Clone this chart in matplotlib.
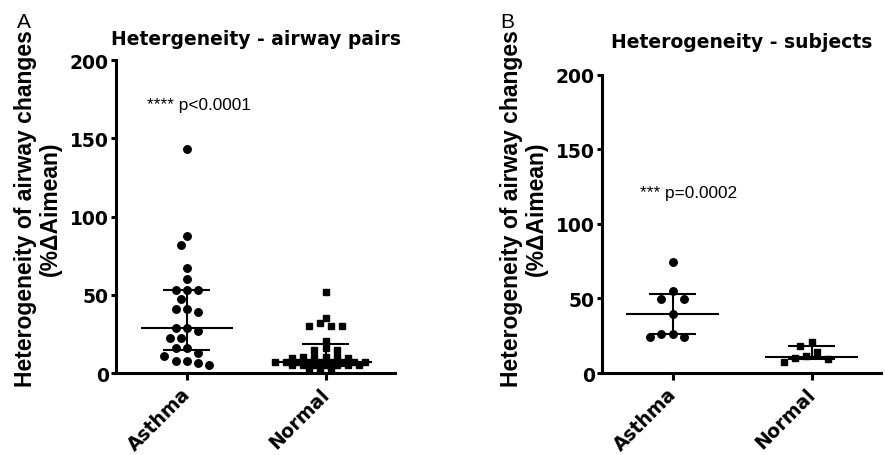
import numpy as np
import matplotlib.pyplot as plt
from matplotlib.transforms import ScaledTranslation

# data
groups = ['Asthma', 'Normal']

asthma_pairs = [143, 87.5, 82, 67, 60, 53, 53, 53, 47, 41, 41, 39, 28.5, 28.5, 27,
                22.6, 22.6, 16, 16, 13, 11, 7.5, 7.5, 6.2, 5.1]
normal_pairs = [51.5, 35, 31.7, 29.8, 29.8, 29.8, 20.4, 16, 14.5, 14.5,
                10.4, 10.4, 10.4, 10.4, 9.5, 9.5,
                7.2, 7.2, 7.2, 7.2, 7.2, 7.2, 7.2, 7.2, 7.2,
                4.8, 4.8, 4.8, 4.8, 4.8, 4.8, 4.8,
                2.6, 2.6, 2.6]
asthma_subj = [74.7, 55.2, 49.7, 49.7, 39.8, 26.4, 26.4, 24.2, 24.2]
normal_subj = [20.6, 17.9, 13.9, 11.2, 10.3, 9.4, 7.6]

# median and interquartile range (as drawn)
pairs_med = [28.5, 7.2]
pairs_q1 = [14.7, 4.7]
pairs_q3 = [53, 18.7]
subj_med = [39.8, 11]
subj_q1 = [26, 9.2]
subj_q3 = [53, 18]

yticks = [0, 50, 100, 150, 200]
ylabel = 'Heterogeneity of airway changes\n(%\u0394Aimean)'

tick_font = dict(family='DejaVu Sans', weight='bold')


def swarm_offsets(ax, xc, vals, d, slot=5.6):
    # slot based beeswarm in pixel space, returns x in data units
    py = np.array([ax.transData.transform((xc, v))[1] for v in vals])
    order = np.argsort(-np.asarray(vals), kind='stable')
    placed = []
    xs = np.zeros(len(vals))
    slots = [0]
    for k in range(1, 40):
        slots += [-k, k]
    for i in order:
        for k in slots:
            c = k * slot
            if all((c - qx) ** 2 + (py[i] - qy) ** 2 >= d * d for qx, qy in placed):
                placed.append((c, py[i]))
                xs[i] = c
                break
    x0 = ax.transData.transform((xc, 0))[0]
    x1 = ax.transData.transform((xc + 1, 0))[0]
    return xc + xs / (x1 - x0)


def draw_panel(ax, data, med, q1, q3, title, pad, gaps):
    ax.set_xlim(-0.51, 1.5)
    ax.set_ylim(0, 200)
    markers = ['o', 's']
    sizes = [5.4, 5.0]
    for i, vals in enumerate(data):
        xs = swarm_offsets(ax, i, vals, gaps[i])
        ax.plot(xs, vals, linestyle='none', marker=markers[i], ms=sizes[i],
                color='black', zorder=3, clip_on=False)
        ax.hlines(med[i], i - 0.333, i + 0.333, color='black', lw=1.5, zorder=4)
        ax.hlines([q1[i], q3[i]], i - 0.17, i + 0.17, color='black', lw=1.5, zorder=4)
        ax.vlines(i, q1[i], q3[i], color='black', lw=1.5, zorder=4)
    for s in ['top', 'right']:
        ax.spines[s].set_visible(False)
    for s in ['left', 'bottom']:
        ax.spines[s].set_linewidth(2.2)
    ax.set_yticks(yticks)
    ax.set_xticks(range(len(groups)))
    ax.set_xticklabels(groups, rotation=45, ha='right', rotation_mode='anchor',
                       fontsize=13.5, **tick_font)
    ax.set_yticklabels([str(t) for t in yticks], fontsize=13.5, **tick_font)
    ax.tick_params(axis='y', width=2.2, length=3.6, pad=1.5)
    ax.tick_params(axis='x', width=2.2, length=5, pad=3)
    shift = ScaledTranslation(-6 / 100, 0, ax.figure.dpi_scale_trans)
    for lab in ax.get_xticklabels():
        lab.set_transform(lab.get_transform() + shift)
    ax.set_title(title, fontsize=13.5, pad=pad, **tick_font)


fig = plt.figure(figsize=(8.85, 4.56), dpi=100)
axA = fig.add_axes([0.1311, 0.1798, 0.3153, 0.6864])
axB = fig.add_axes([0.6799, 0.1798, 0.3156, 0.6542])

draw_panel(axA, [asthma_pairs, normal_pairs], pairs_med, pairs_q1, pairs_q3,
           'Hetergeneity - airway pairs', 11.5, [10, 6.4])
draw_panel(axB, [asthma_subj, normal_subj], subj_med, subj_q1, subj_q3,
           'Heterogeneity - subjects', 20, [10, 10])

axA.text(-0.29, 169, '**** p<0.0001', family='Liberation Sans', fontsize=12.4,
         ha='left', va='baseline')
axB.text(-0.235, 118, '*** p=0.0002', family='Liberation Sans', fontsize=12.4,
         ha='left', va='baseline')

for xc in [38 / 885, 524 / 885]:
    fig.text(xc, 1 - 209 / 456, ylabel, rotation=90, ha='center', va='center',
             multialignment='center', family='Liberation Sans', weight='bold',
             fontsize=16.5, linespacing=1.15)

fig.text(17 / 885, 1 - 28 / 456, 'A', family='Liberation Sans', fontsize=15,
         ha='left', va='baseline')
fig.text(500 / 885, 1 - 28 / 456, 'B', family='Liberation Sans', fontsize=15,
         ha='left', va='baseline')

fig.savefig('out.png', dpi=100)
